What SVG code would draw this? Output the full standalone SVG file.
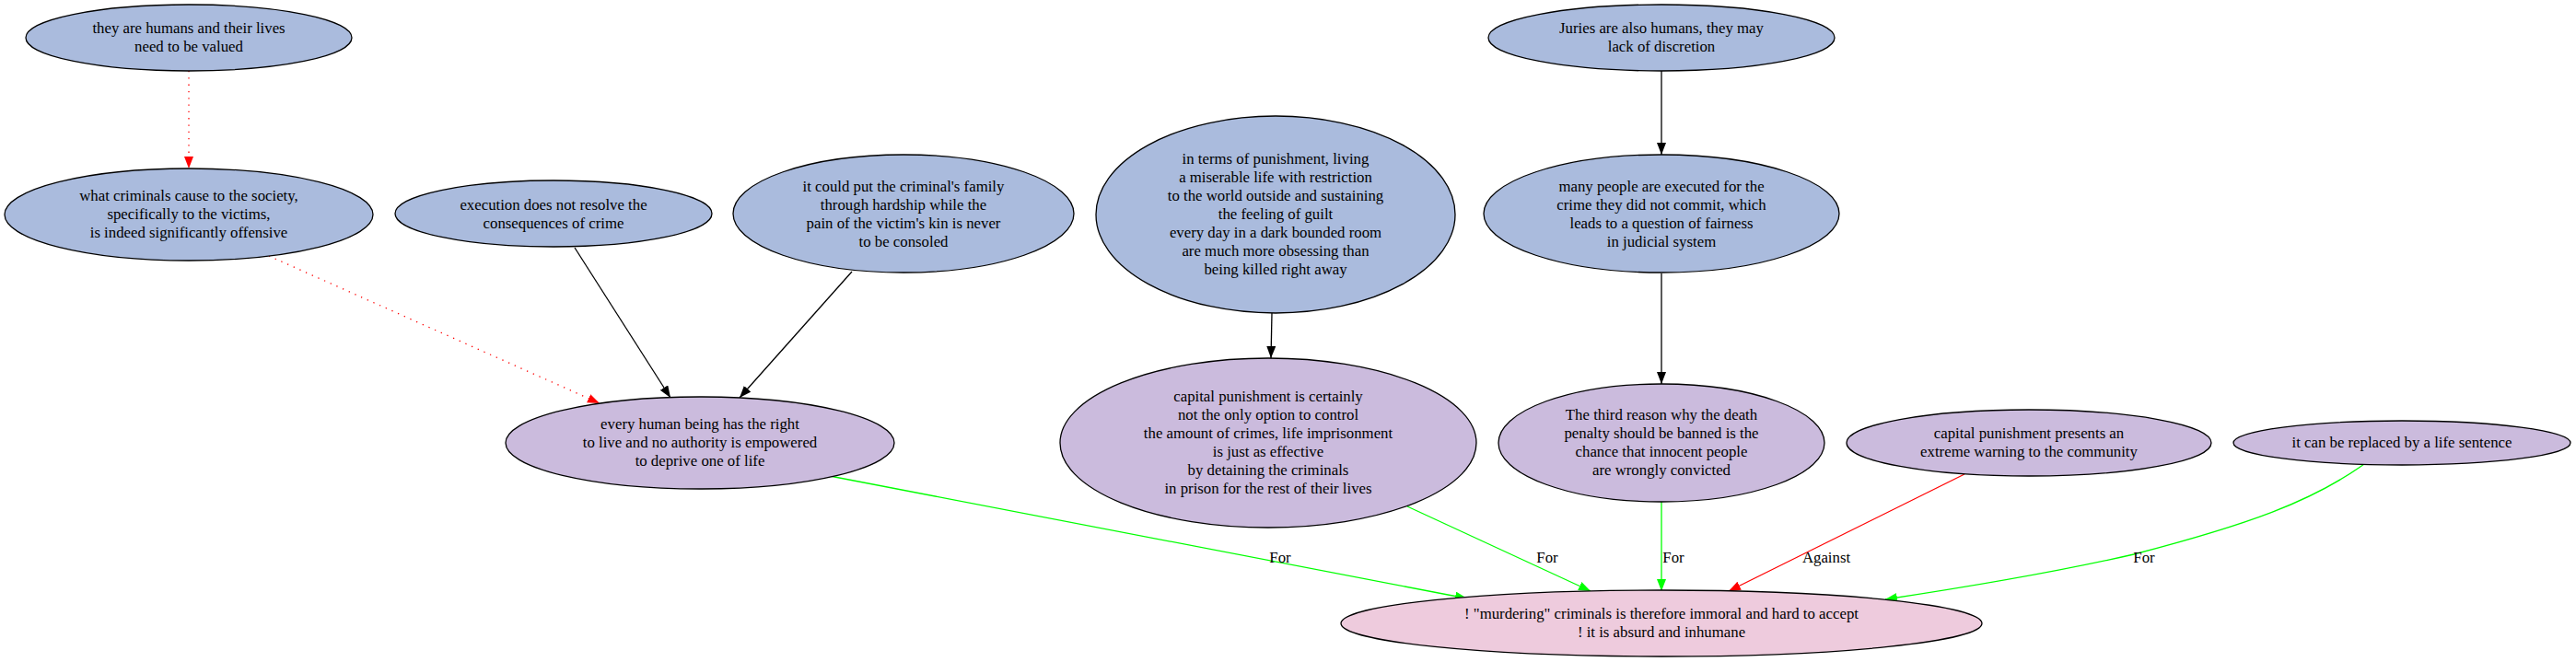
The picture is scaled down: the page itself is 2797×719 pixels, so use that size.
<svg xmlns="http://www.w3.org/2000/svg" width="2797" height="719" viewBox="0 0 2797 719">
<style>
.n ellipse{stroke:#000;stroke-width:1.3}
.b ellipse{fill:#aabbdd}
.p ellipse{fill:#cbbbdd}
.k ellipse{fill:#eecbdd}
text{font-family:"Liberation Serif","Times New Roman",serif;font-size:16.8px;fill:#000;text-anchor:middle}
.e{fill:none;stroke-width:1.3}
.blk{stroke:#000}
.red{stroke:#ff0000}
.grn{stroke:#00ff00}
.dot{stroke-dasharray:1.3,6}
</style>
<defs>
<marker id="ak" markerWidth="14" markerHeight="11" refX="13" refY="5" orient="auto" markerUnits="userSpaceOnUse"><path d="M0,0 L13,5 L0,10 z" fill="#000"/></marker>
<marker id="ar" markerWidth="14" markerHeight="11" refX="13" refY="5" orient="auto" markerUnits="userSpaceOnUse"><path d="M0,0 L13,5 L0,10 z" fill="#ff0000"/></marker>
<marker id="ag" markerWidth="14" markerHeight="11" refX="13" refY="5" orient="auto" markerUnits="userSpaceOnUse"><path d="M0,0 L13,5 L0,10 z" fill="#00ff00"/></marker>
</defs>
<rect width="2797" height="719" fill="#fff"/>
<g id="edges">
<path class="e red dot" d="M205,77 L205,183" marker-end="url(#ar)"/>
<path class="e red dot" d="M292,278 L651,438" marker-end="url(#ar)"/>
<path class="e blk" d="M624,269 L728,432" marker-end="url(#ak)"/>
<path class="e blk" d="M925,295 L803,432" marker-end="url(#ak)"/>
<path class="e blk" d="M1381,340 L1380,389" marker-end="url(#ak)"/>
<path class="e blk" d="M1804,77 L1804,168" marker-end="url(#ak)"/>
<path class="e blk" d="M1804,297 L1804,417" marker-end="url(#ak)"/>
<path class="e grn" d="M901,517 L1593,650" marker-end="url(#ag)"/>
<path class="e grn" d="M1528,550 L1727,642" marker-end="url(#ag)"/>
<path class="e grn" d="M1804,545 L1804,642" marker-end="url(#ag)"/>
<path class="e red" d="M2133,515 L1877,642" marker-end="url(#ar)"/>
<path class="e grn" d="M2567,504 C2510,545 2440,570 2317,602 C2230,622 2120,640 2047,651" marker-end="url(#ag)"/>
<text x="1390" y="611">For</text>
<text x="1680" y="611">For</text>
<text x="1817" y="611">For</text>
<text x="1983" y="611">Against</text>
<text x="2328" y="611">For</text>
</g>
<g id="n1" class="n b"><ellipse cx="205" cy="41" rx="177" ry="36"/><text x="205" y="36">they are humans and their lives</text><text x="205" y="56">need to be valued</text></g>
<g id="n2" class="n b"><ellipse cx="205" cy="233" rx="200" ry="50"/><text x="205" y="218">what criminals cause to the society,</text><text x="205" y="238">specifically to the victims,</text><text x="205" y="258">is indeed significantly offensive</text></g>
<g id="n3" class="n b"><ellipse cx="601" cy="232" rx="172" ry="36"/><text x="601" y="228">execution does not resolve the</text><text x="601" y="248">consequences of crime</text></g>
<g id="n4" class="n b"><ellipse cx="981" cy="232" rx="185" ry="64"/><text x="981" y="208">it could put the criminal's family</text><text x="981" y="228">through hardship while the</text><text x="981" y="248">pain of the victim's kin is never</text><text x="981" y="268">to be consoled</text></g>
<g id="n5" class="n b"><ellipse cx="1385" cy="233" rx="195" ry="107"/><text x="1385" y="178">in terms of punishment, living</text><text x="1385" y="198">a miserable life with restriction</text><text x="1385" y="218">to the world outside and sustaining</text><text x="1385" y="238">the feeling of guilt</text><text x="1385" y="258">every day in a dark bounded room</text><text x="1385" y="278">are much more obsessing than</text><text x="1385" y="298">being killed right away</text></g>
<g id="n6" class="n b"><ellipse cx="1804" cy="41" rx="188" ry="36"/><text x="1804" y="36">Juries are also humans, they may</text><text x="1804" y="56">lack of discretion</text></g>
<g id="n7" class="n b"><ellipse cx="1804" cy="232" rx="193" ry="64"/><text x="1804" y="208">many people are executed for the</text><text x="1804" y="228">crime they did not commit, which</text><text x="1804" y="248">leads to a question of fairness</text><text x="1804" y="268">in judicial system</text></g>
<g id="n8" class="n p"><ellipse cx="760" cy="481" rx="211" ry="50"/><text x="760" y="466">every human being has the right</text><text x="760" y="486">to live and no authority is empowered</text><text x="760" y="506">to deprive one of life</text></g>
<g id="n9" class="n p"><ellipse cx="1377" cy="481" rx="226" ry="92"/><text x="1377" y="436">capital punishment is certainly</text><text x="1377" y="456">not the only option to control</text><text x="1377" y="476">the amount of crimes, life imprisonment</text><text x="1377" y="496">is just as effective</text><text x="1377" y="516">by detaining the criminals</text><text x="1377" y="536">in prison for the rest of their lives</text></g>
<g id="n10" class="n p"><ellipse cx="1804" cy="481" rx="177" ry="64"/><text x="1804" y="456">The third reason why the death</text><text x="1804" y="476">penalty should be banned is the</text><text x="1804" y="496">chance that innocent people</text><text x="1804" y="516">are wrongly convicted</text></g>
<g id="n11" class="n p"><ellipse cx="2203" cy="481" rx="198" ry="36"/><text x="2203" y="476">capital punishment presents an</text><text x="2203" y="496">extreme warning to the community</text></g>
<g id="n12" class="n p"><ellipse cx="2608" cy="481" rx="183" ry="24"/><text x="2608" y="486">it can be replaced by a life sentence</text></g>
<g id="n13" class="n k"><ellipse cx="1804" cy="677" rx="348" ry="36"/><text x="1804" y="672">! "murdering" criminals is therefore immoral and hard to accept</text><text x="1804" y="692">! it is absurd and inhumane</text></g>
</svg>
